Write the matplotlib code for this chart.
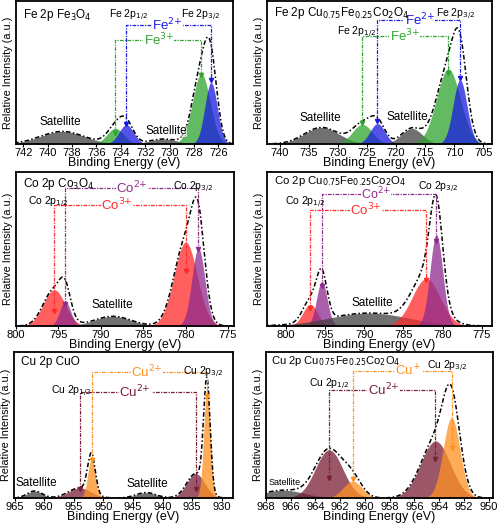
import numpy as np
import matplotlib
matplotlib.use('Agg')
import matplotlib.pyplot as plt

plt.rcParams['font.family'] = ['Liberation Sans Narrow', 'Liberation Sans', 'DejaVu Sans']
plt.rcParams['mathtext.fontset'] = 'custom'
plt.rcParams['mathtext.rm'] = 'Liberation Sans Narrow'
plt.rcParams['mathtext.it'] = 'Liberation Sans Narrow'

# Componentes ajustados (centro eV, altura relativa, FWHM eV)
# Fe 2p - Fe3O4
fe1_centro = [738.8, 734.45, 733.55, 730.5, 727.4, 726.6]
fe1_altura = [0.088, 0.11, 0.135, 0.035, 0.49, 0.43]
fe1_fwhm = [4.2, 1.6, 1.4, 2.6, 1.7, 1.2]
fe1_tipo = ['sat', 'fe3', 'fe2', 'sat', 'fe3', 'fe2']

# Fe 2p - Cu0.75Fe0.25Co2O4
fe2_centro = [732.8, 725.8, 723.2, 717.3, 711.0, 709.0]
fe2_altura = [0.116, 0.137, 0.143, 0.109, 0.525, 0.449]
fe2_fwhm = [7.0, 4.0, 3.0, 4.2, 4.8, 2.8]
fe2_tipo = ['sat', 'fe3', 'fe2', 'sat', 'fe3', 'fe2']

# Co 2p - Co3O4
co1_centro = [795.5, 794.2, 788.6, 780.0, 778.5]
co1_altura = [0.236, 0.16, 0.063, 0.545, 0.506]
co1_fwhm = [3.0, 1.5, 5.0, 3.2, 1.8]
co1_tipo = ['co3', 'co2', 'sat', 'co3', 'co2']

# Co 2p - Cu0.75Fe0.25Co2O4
co2_centro = [796.9, 795.4, 789.4, 782.1, 780.8]
co2_altura = [0.14, 0.29, 0.084, 0.307, 0.593]
co2_fwhm = [2.2, 1.6, 12.0, 4.2, 1.9]
co2_tipo = ['co3', 'co2', 'sat', 'co3', 'co2']

# Cu 2p - CuO
cu1_centro = [961.6, 954.0, 952.0, 942.8, 934.4, 932.5]
cu1_altura = [0.048, 0.069, 0.27, 0.037, 0.167, 0.75]
cu1_fwhm = [3.0, 4.5, 1.5, 4.0, 3.6, 1.3]
cu1_tipo = ['sat', 'cu2', 'cuo', 'sat', 'cu2', 'cuo']

# Cu 2p - Cu0.75Fe0.25Co2O4
cu2_centro = [966.6, 962.9, 961.0, 954.3, 953.0]
cu2_altura = [0.053, 0.33, 0.115, 0.39, 0.55]
cu2_fwhm = [4.0, 2.6, 1.8, 2.8, 1.6]
cu2_tipo = ['sat', 'cu2', 'cuo', 'cu2', 'cuo']

cores = {'sat': '#404040', 'fe3': '#2ea52e', 'fe2': '#1a1ae0',
         'co3': '#ff2a2a', 'co2': '#8e2a8e',
         'cu2': '#7a1f35', 'cuo': '#ff9020'}


def gauss(x, c, a, w):
    s = w / 2.3548
    return a * np.exp(-0.5 * ((x - c) / s) ** 2)


fig = plt.figure(figsize=(5.02, 5.23), dpi=100)
W, H = 502.0, 523.0


def painel(px0, px1, py0, py1):
    return fig.add_axes([px0 / W, 1 - py1 / H, (px1 - px0) / W, (py1 - py0) / H])


def desenha(ax, centro, altura, fwhm, tipo, xlim, ticks):
    x = np.linspace(min(xlim), max(xlim), 1500)
    total = np.zeros_like(x)
    for c, a, w, t in zip(centro, altura, fwhm, tipo):
        y = gauss(x, c, a, w)
        total += y
        ax.fill_between(x, 0, y, color=cores[t], alpha=0.75, lw=0)
    ax.plot(x, total, color='black', ls=(0, (3, 1.5, 1, 1.5)), lw=1.1)
    ax.set_xlim(xlim)
    ax.set_ylim(0, 1)
    ax.set_xticks(ticks)
    ax.set_yticks([])
    ax.tick_params(axis='x', labelsize=8, length=2, pad=1)
    for s in ax.spines.values():
        s.set_linewidth(1.3)
    ax.set_xlabel('Binding Energy (eV)', fontsize=9, labelpad=-1)
    ax.set_ylabel('Relative Intensity (a.u.)', fontsize=7.8, labelpad=2,
                  family=['Liberation Sans', 'DejaVu Sans'])


def colchete(ax, xa, xb, ytopo, ya, yb, cor, rotulo, xr, fs=9.5):
    ax.plot([xa, xa, xb, xb], [ya, ytopo, ytopo, yb], color=cor,
            ls=(0, (3, 1, 1, 1)), lw=0.9)
    ax.plot([xa, xb], [ya, yb], ls='none', marker='v', ms=3, color=cor)
    ax.text(xr, ytopo, rotulo, color=cor, fontsize=fs, ha='center', va='center',
            bbox=dict(facecolor='white', edgecolor='none', pad=0.3))


def rotulo(ax, x, y, s, fs=7.5):
    ax.text(x, y, s, transform=ax.transAxes, fontsize=fs, ha='left', va='top')


# Painel 1
ax = painel(16, 233, 1, 144)
desenha(ax, fe1_centro, fe1_altura, fe1_fwhm, fe1_tipo, (742.6, 724.8),
        [742, 740, 738, 736, 734, 732, 730, 728, 726])
colchete(ax, 733.55, 726.6, 0.834, 0.14, 0.45, cores['fe2'], 'Fe$^{2{+}}$', 730.2)
colchete(ax, 734.45, 727.4, 0.727, 0.08, 0.48, cores['fe3'], 'Fe$^{3{+}}$', 730.9)
rotulo(ax, 0.03, 0.96, 'Fe 2p Fe$_3$O$_4$', 8.5)
rotulo(ax, 0.43, 0.95, 'Fe 2p$_{1/2}$', 7.5)
rotulo(ax, 0.76, 0.95, 'Fe 2p$_{3/2}$', 7.5)
ax.text(739.0, 0.11, 'Satellite', fontsize=8.5, ha='center', va='bottom')
ax.text(730.3, 0.05, 'Satellite', fontsize=8.5, ha='center', va='bottom',
        bbox=dict(facecolor='white', edgecolor='none', pad=0.2, alpha=0.6))

# Painel 2
ax = painel(267, 492, 1, 144)
desenha(ax, fe2_centro, fe2_altura, fe2_fwhm, fe2_tipo, (742.2, 703.5),
        [740, 735, 730, 725, 720, 715, 710, 705])
colchete(ax, 723.2, 709.0, 0.868, 0.16, 0.46, cores['fe2'], 'Fe$^{2{+}}$', 715.9)
colchete(ax, 725.8, 711.0, 0.757, 0.15, 0.5, cores['fe3'], 'Fe$^{3{+}}$', 718.5)
rotulo(ax, 0.03, 0.975, 'Fe 2p Cu$_{0.75}$Fe$_{0.25}$Co$_2$O$_4$', 8.5)
rotulo(ax, 0.31, 0.83, 'Fe 2p$_{1/2}$', 7.5)
rotulo(ax, 0.75, 0.96, 'Fe 2p$_{3/2}$', 7.5)
ax.text(733.0, 0.14, 'Satellite', fontsize=8.5, ha='center', va='bottom')
ax.text(718.0, 0.15, 'Satellite', fontsize=8.5, ha='center', va='bottom')

# Painel 3
ax = painel(16, 234, 172, 326)
desenha(ax, co1_centro, co1_altura, co1_fwhm, co1_tipo, (800.0, 774.3),
        [800, 795, 790, 785, 780, 775])
colchete(ax, 794.2, 778.5, 0.898, 0.14, 0.5, cores['co2'], 'Co$^{2{+}}$', 786.3)
colchete(ax, 795.5, 780.0, 0.784, 0.1, 0.36, cores['co3'], 'Co$^{3{+}}$', 788.1)
rotulo(ax, 0.03, 0.975, 'Co 2p Co$_3$O$_4$', 8.5)
rotulo(ax, 0.055, 0.85, 'Co 2p$_{1/2}$', 7.5)
rotulo(ax, 0.72, 0.95, 'Co 2p$_{3/2}$', 7.5)
ax.text(788.6, 0.095, 'Satellite', fontsize=8.5, ha='center', va='bottom')

# Painel 4
ax = painel(267, 492, 172, 326)
desenha(ax, co2_centro, co2_altura, co2_fwhm, co2_tipo, (802.4, 773.7),
        [800, 795, 790, 785, 780, 775])
colchete(ax, 795.4, 780.8, 0.855, 0.26, 0.55, cores['co2'], 'Co$^{2{+}}$', 788.5, 9)
colchete(ax, 796.9, 782.1, 0.751, 0.12, 0.3, cores['co3'], 'Co$^{3{+}}$', 789.8)
rotulo(ax, 0.03, 0.99, 'Co 2p Cu$_{0.75}$Fe$_{0.25}$Co$_2$O$_4$', 8.2)
rotulo(ax, 0.08, 0.85, 'Co 2p$_{1/2}$', 7.5)
rotulo(ax, 0.67, 0.95, 'Co 2p$_{3/2}$', 7.5)
ax.text(789.0, 0.11, 'Satellite', fontsize=8.5, ha='center', va='bottom')

# Painel 5
ax = painel(14, 233, 352, 498)
desenha(ax, cu1_centro, cu1_altura, cu1_fwhm, cu1_tipo, (965.1, 928.1),
        [965, 960, 955, 950, 945, 940, 935, 930])
colchete(ax, 952.0, 932.5, 0.86, 0.26, 0.7, cores['cuo'], 'Cu$^{2{+}}$', 942.6)
colchete(ax, 954.0, 934.4, 0.729, 0.06, 0.06, cores['cu2'], 'Cu$^{2{+}}$', 944.6)
rotulo(ax, 0.03, 0.97, 'Cu 2p CuO', 8.5)
rotulo(ax, 0.17, 0.78, 'Cu 2p$_{1/2}$', 7.5)
rotulo(ax, 0.77, 0.91, 'Cu 2p$_{3/2}$', 7.5)
ax.text(961.3, 0.065, 'Satellite', fontsize=8.5, ha='center', va='bottom')
ax.text(942.6, 0.055, 'Satellite', fontsize=8.5, ha='center', va='bottom')

# Painel 6
ax = painel(266, 493, 352, 498)
desenha(ax, cu2_centro, cu2_altura, cu2_fwhm, cu2_tipo, (968.0, 949.65),
        [968, 966, 964, 962, 960, 958, 956, 954, 952, 950])
colchete(ax, 961.0, 953.0, 0.87, 0.13, 0.34, cores['cuo'], 'Cu$^{{+}}$', 956.5)
colchete(ax, 962.9, 954.3, 0.74, 0.14, 0.27, cores['cu2'], 'Cu$^{2{+}}$', 958.5)
rotulo(ax, 0.02, 0.985, 'Cu 2p Cu$_{0.75}$Fe$_{0.25}$Co$_2$O$_4$', 8)
rotulo(ax, 0.19, 0.83, 'Cu 2p$_{1/2}$', 7.5)
rotulo(ax, 0.71, 0.95, 'Cu 2p$_{3/2}$', 7.5)
ax.text(966.5, 0.075, 'Satellite', fontsize=6.5, ha='center', va='bottom')

fig.savefig('out.png', dpi=100)
